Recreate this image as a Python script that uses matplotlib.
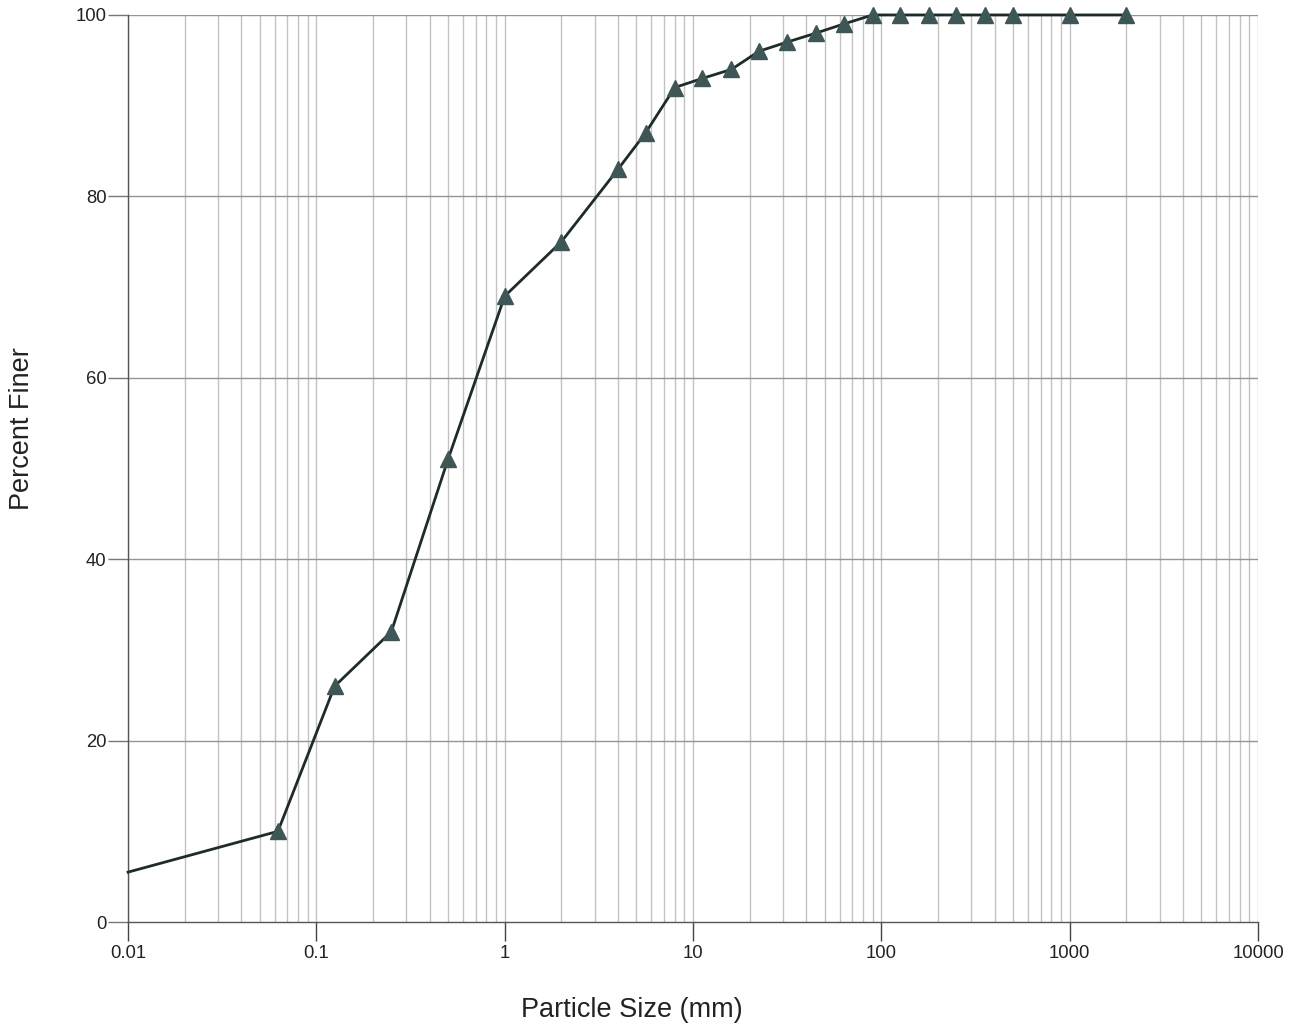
import numpy as np
import matplotlib
matplotlib.use("Agg")
import matplotlib.pyplot as plt
from matplotlib.ticker import FixedLocator, NullFormatter

plt.rcParams['font.family'] = ['Liberation Sans', 'DejaVu Sans']

# Sieve sizes (mm) and cumulative percent passing
particle_size = [0.01, 0.0625, 0.125, 0.25, 0.5, 1, 2, 4, 5.6, 8, 11.2, 16, 22.4,
                 31.5, 45, 63, 90, 125, 180, 250, 355, 500, 1000, 2000]
percent_finer = [5.5, 10, 26, 32, 51, 69, 75, 83, 87, 92, 93, 94, 96,
                 97, 98, 99, 100, 100, 100, 100, 100, 100, 100, 100]

x_ticks = [0.01, 0.1, 1, 10, 100, 1000, 10000]
x_tick_labels = ["0.01", "0.1", "1", "10", "100", "1000", "10000"]
y_ticks = [0, 20, 40, 60, 80, 100]

fig = plt.figure(figsize=(13, 10.31), dpi=100)
ax = fig.add_axes([0.0985, 0.1057, 0.8692, 0.8798])

ax.set_xscale('log')
ax.set_xlim(0.01, 10000)
ax.set_ylim(0, 100)

# vertical grid at every 1-9 subdivision of each decade
minor_pos = [m * 10.0 ** e for e in range(-2, 4) for m in range(1, 10)] + [10000]
for xv in minor_pos:
    ax.axvline(xv, color='#c2c2c2', lw=1.0, zorder=1)
for yv in y_ticks[1:]:
    ax.axhline(yv, color='#959595', lw=1.0, zorder=1)

ax.plot(particle_size, percent_finer, color='#1f2b2b', lw=2.0, zorder=3,
        marker='^', markersize=12, markerfacecolor='#3f5656',
        markeredgecolor='#3f5656', markevery=list(range(1, len(particle_size))),
        clip_on=False)

ax.xaxis.set_major_locator(FixedLocator(x_ticks))
ax.set_xticklabels(x_tick_labels)
ax.xaxis.set_minor_locator(FixedLocator([]))
ax.xaxis.set_minor_formatter(NullFormatter())
ax.set_yticks(y_ticks)

ax.tick_params(axis='x', which='major', length=13.7, width=1.0, color='#444444',
               labelsize=13.3, pad=3.2, labelcolor='#222222')
ax.tick_params(axis='y', which='major', length=14.4, width=1.0, color='#777777',
               labelsize=13.3, pad=1, labelcolor='#222222')

for side in ['top', 'right']:
    ax.spines[side].set_visible(False)
ax.spines['left'].set_color('#555555')
ax.spines['bottom'].set_color('#555555')
ax.spines['left'].set_linewidth(1.0)
ax.spines['bottom'].set_linewidth(1.0)

fig.text(0.486, 0.020, "Particle Size (mm)", ha='center', va='center',
         fontsize=19.5, color='#222222')
fig.text(0.017, 0.584, "Percent Finer", ha='center', va='center',
         rotation=90, fontsize=19.5, color='#222222')

fig.savefig("out.png", dpi=100)
